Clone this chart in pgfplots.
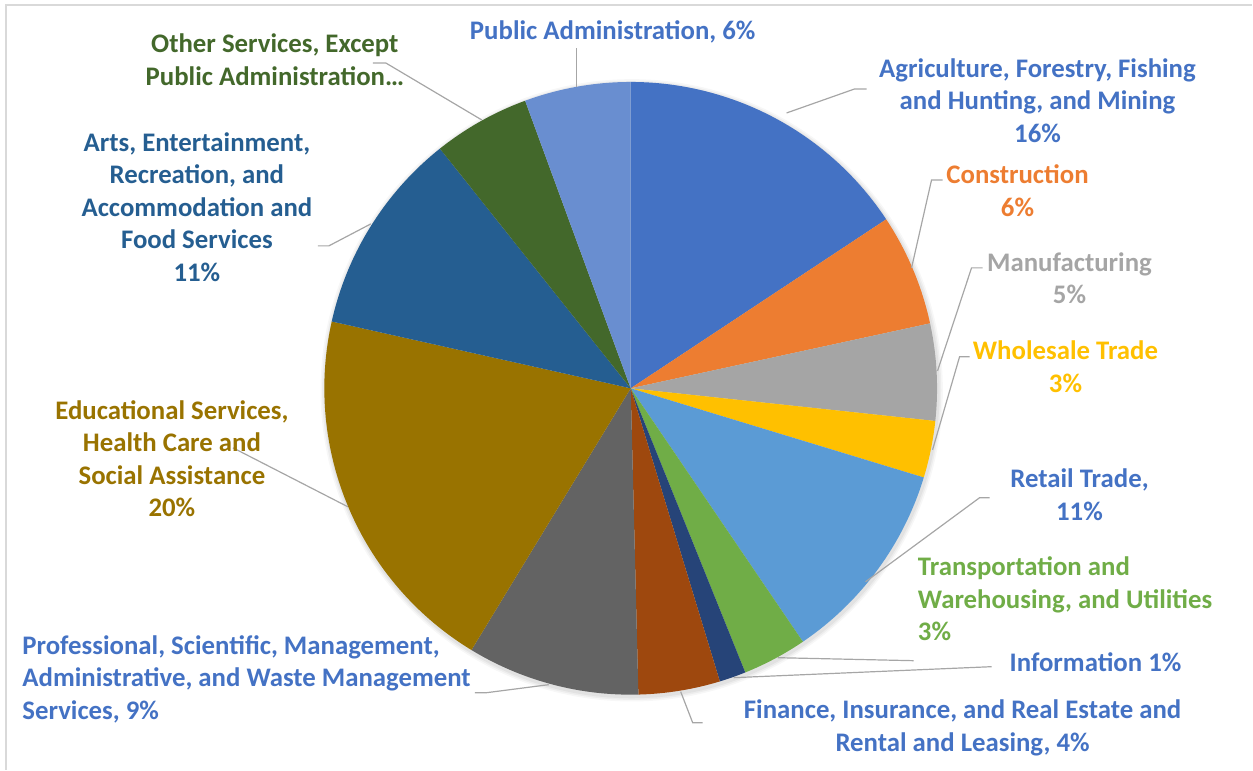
\documentclass[border=0pt]{standalone}
\usepackage{pgfplots}
\usepackage{pgfplotstable}
\pgfplotsset{compat=1.18}
\usepackage{fontspec}
\setmainfont{Carlito}

\definecolor{cAgri}{HTML}{4472C4}
\definecolor{cCons}{HTML}{ED7D31}
\definecolor{cManu}{HTML}{A5A5A5}
\definecolor{cWhol}{HTML}{FFC000}
\definecolor{cReta}{HTML}{5B9BD5}
\definecolor{cTran}{HTML}{70AD47}
\definecolor{cInfo}{HTML}{264478}
\definecolor{cFina}{HTML}{9E480E}
\definecolor{cProf}{HTML}{636363}
\definecolor{cEduc}{HTML}{997300}
\definecolor{cArts}{HTML}{255E91}
\definecolor{cOthe}{HTML}{43682B}
\definecolor{cPubl}{HTML}{698ED0}
\definecolor{tBlue}{HTML}{4472C4}
\definecolor{leader}{HTML}{A6A6A6}

\tikzset{lbl/.style={inner sep=0pt, align=center, yshift=-1pt, font=\fontsize{13.4}{16.25}\selectfont\bfseries}}

% shares in percent, clockwise from 12 o'clock
\pgfplotstableread{
share col
15.7 cAgri
5.9  cCons
5.1  cManu
3.0  cWhol
10.8 cReta
3.4  cTran
1.4  cInfo
4.3  cFina
9.1  cProf
19.8 cEduc
10.8 cArts
5.1  cOthe
5.6  cPubl
}\piedata

\begin{document}
\begin{tikzpicture}
\begin{axis}[
  x=0.5pt, y=0.5pt, y dir=reverse,
  xmin=0, xmax=1253, ymin=0, ymax=770,
  hide axis, clip=false, scale only axis,
]
\addplot[draw=none, forget plot] coordinates {(0,0) (1253,770)};
\pgfplotsextra{
  \draw[color=black!15, line width=0.6pt] (axis cs:6,770) -- (axis cs:6,5) -- (axis cs:1253,5);
  % soft shadow
  \foreach \k/\o in {1/0.05,2/0.04,3/0.03}{
    \fill[black, opacity=\o] (axis cs:632,390.5) circle[radius={153.25pt+\k*0.8pt}];
  }
  \pgfplotstablegetrowsof{\piedata}
  \pgfmathtruncatemacro\nrows{\pgfplotsretval-1}
  \gdef\angA{90}
  \foreach \i in {0,...,\nrows}{
    \pgfplotstablegetelem{\i}{share}\of\piedata \let\v\pgfplotsretval
    \pgfplotstablegetelem{\i}{col}\of\piedata \let\c\pgfplotsretval
    \pgfmathsetmacro\angB{\angA-3.6*\v}
    \fill[\c] (axis cs:631,388.5) -- ++(\angA:153.25pt) arc[start angle=\angA, end angle=\angB, radius=153.25pt] -- cycle;
    \global\let\angA\angB
  }
  % leader lines
  \begin{scope}[leader, line width=0.6pt]
    \draw (axis cs:577,87) -- (axis cs:577,48);
    \draw (axis cs:482,120) -- (axis cs:386,63) -- (axis cs:373,63);
    \draw (axis cs:371,224) -- (axis cs:329,246) -- (axis cs:318,246);
    \draw (axis cs:348,507) -- (axis cs:233,448);
    \draw (axis cs:549,685) -- (axis cs:487,693) -- (axis cs:475,693);
    \draw (axis cs:681,692) -- (axis cs:693,723) -- (axis cs:703,723);
    \draw (axis cs:734,678) -- (axis cs:992,667);
    \draw (axis cs:778,658) -- (axis cs:914,661);
    \draw (axis cs:866,582) -- (axis cs:980,498) -- (axis cs:990,498);
    \draw (axis cs:933,450) -- (axis cs:960,357) -- (axis cs:970,357);
    \draw (axis cs:938,371) -- (axis cs:972,268) -- (axis cs:983,268);
    \draw (axis cs:912,268) -- (axis cs:932,180) -- (axis cs:943,180);
    \draw (axis cs:787,113) -- (axis cs:855,89) -- (axis cs:867,89);
  \end{scope}
}
% labels
\node[lbl, text=tBlue] at (axis cs:613,30) {Public Administration, 6\%};
\node[lbl, text=tBlue] at (axis cs:1038,98.5) {Agriculture, Forestry, Fishing\\and Hunting, and Mining\\16\%};
\node[lbl, text=cCons] at (axis cs:1018,189) {Construction\\6\%};
\node[lbl, text=cManu] at (axis cs:1070,276.5) {Manufacturing\\5\%};
\node[lbl, text=cWhol] at (axis cs:1066,365) {Wholesale Trade\\3\%};
\node[lbl, text=tBlue] at (axis cs:1080,493) {Retail Trade,\\11\%};
\node[lbl, text=cTran, anchor=west, align=left] at (axis cs:918,597) {Transportation and\\Warehousing, and Utilities\\3\%};
\node[lbl, text=tBlue] at (axis cs:1096,661) {Information 1\%};
\node[lbl, text=tBlue] at (axis cs:963,726) {Finance, Insurance, and Real Estate and\\Rental and Leasing, 4\%};
\node[lbl, text=tBlue, anchor=west, align=left] at (axis cs:22,677.5) {Professional, Scientific, Management,\\Administrative, and Waste Management\\Services, 9\%};
\node[lbl, text=cEduc] at (axis cs:172,457) {Educational Services,\\Health Care and\\Social Assistance\\20\%};
\node[lbl, text=cArts] at (axis cs:197,205) {Arts, Entertainment,\\Recreation, and\\Accommodation and\\Food Services\\11\%};
\node[lbl, text=cOthe] at (axis cs:275,57.5) {Other Services, Except\\Public Administration\dots};
\end{axis}
\end{tikzpicture}
\end{document}
